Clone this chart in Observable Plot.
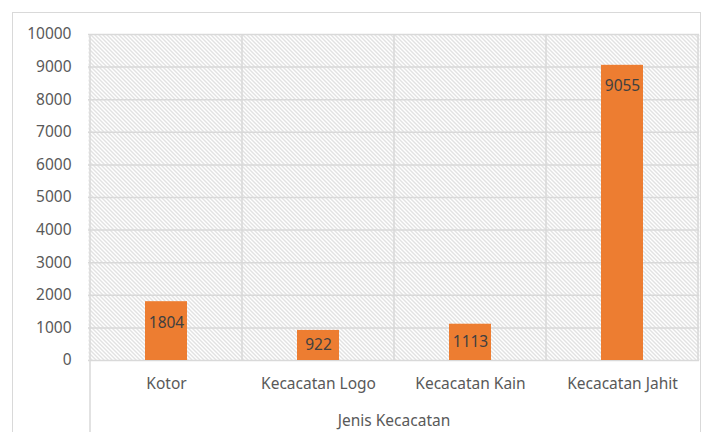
<!DOCTYPE html>
<html>
<head>
<meta charset="utf-8">
<script src="https://cdn.jsdelivr.net/npm/d3@7"></script>
<script src="https://cdn.jsdelivr.net/npm/@observablehq/plot@0.6"></script>
<style>
  html, body { margin: 0; padding: 0; background: #fff; }
  #wrap { position: relative; width: 709px; height: 432px; overflow: hidden; }
  #border { position: absolute; left: 12px; top: 12px; width: 689px; height: 440px; border: 1.5px solid #d9d9d9; box-sizing: border-box; }
  #chart { position: absolute; left: 0; top: 0; }
</style>
</head>
<body>
<div id="wrap"><div id="border"></div><div id="chart"></div></div>
<script>
const categories = ["Kotor", "Kecacatan Logo", "Kecacatan Kain", "Kecacatan Jahit"];
const values = [1804, 922, 1113, 9055];
const yTicks = [0, 1000, 2000, 3000, 4000, 5000, 6000, 7000, 8000, 9000, 10000];
const xTitle = "Jenis Kecacatan";

const data = categories.map((c, i) => ({cat: c, value: values[i]}));
const font = "'Noto Sans', sans-serif";
const textColor = "#595959";
const gridColor = "#d9d9d9";

const W = 709, H = 432, mL = 88, mT = 34, mR = 10, mB = 72;
const pxPerUnit = (H - mT - mB) / 10000;
const labelOffsetUnits = 21 / pxPerUnit;

const plot = Plot.plot({
  width: W, height: H,
  marginLeft: mL, marginTop: mT, marginRight: mR, marginBottom: mB,
  style: {fontFamily: font, fontSize: "15.5px", color: textColor, background: "transparent"},
  x: {domain: categories, paddingInner: 0.725, paddingOuter: 0.3625},
  y: {domain: [0, 10000]},
  marks: [
    Plot.frame({fill: "url(#hatch)", stroke: null}),
    Plot.ruleY(yTicks, {stroke: gridColor, strokeWidth: 1.5, strokeOpacity: 1}),
    Plot.barY(data, {x: "cat", y: "value", fill: "#ED7D31"}),
    Plot.text(data, {
      x: "cat",
      y: d => Math.max(d.value - labelOffsetUnits, d.value / 2),
      text: d => String(d.value),
      fill: "#404040", fontSize: 15.5, fontFamily: font
    }),
    Plot.axisY({ticks: yTicks, tickSize: 0, tickPadding: 17, label: null, tickFormat: d => String(d), fill: textColor}),
    Plot.axisX({tickSize: 0, tickPadding: 17, label: xTitle, labelAnchor: "center", labelArrow: "none", labelOffset: 65, fill: textColor})
  ]
});

// Hatch pattern definition
const svg = d3.select(plot);
const defs = svg.insert("defs", ":first-child");
const pat = defs.append("pattern").attr("id", "hatch").attr("patternUnits", "userSpaceOnUse")
  .attr("width", 4).attr("height", 4);
pat.append("rect").attr("width", 4).attr("height", 4).attr("fill", "#ffffff");
pat.append("path").attr("d", "M-1,-1 L5,5 M-1,3 L1,5 M3,-1 L5,1").attr("stroke", "#c4c4c4").attr("stroke-width", 1);

// Category separators using the x band scale
const xs = plot.scale("x");
const step = xs.step;
const yTop = mT, yBottom = H - mB;
const g = svg.append("g").attr("stroke", gridColor).attr("stroke-width", 1.5);
categories.forEach((c, i) => {
  const xLeft = xs.apply(c) - (step - xs.bandwidth) / 2;
  g.append("line").attr("x1", xLeft).attr("x2", xLeft).attr("y1", yTop).attr("y2", i === 0 ? H : yBottom);
});
const xRight = xs.apply(categories[categories.length - 1]) + xs.bandwidth + (step - xs.bandwidth) / 2;
g.append("line").attr("x1", xRight).attr("x2", xRight).attr("y1", yTop).attr("y2", yBottom);
// keep gridlines/separators beneath bars: move bars & labels to the end
svg.selectAll("g[aria-label='bar'], g[aria-label='text']").each(function() { this.parentNode.appendChild(this); });
svg.selectAll("g[aria-label='y-axis tick label'], g[aria-label='x-axis tick label'], g[aria-label='x-axis label']").each(function() { this.parentNode.appendChild(this); });

document.getElementById("chart").appendChild(plot);
</script>
</body>
</html>
